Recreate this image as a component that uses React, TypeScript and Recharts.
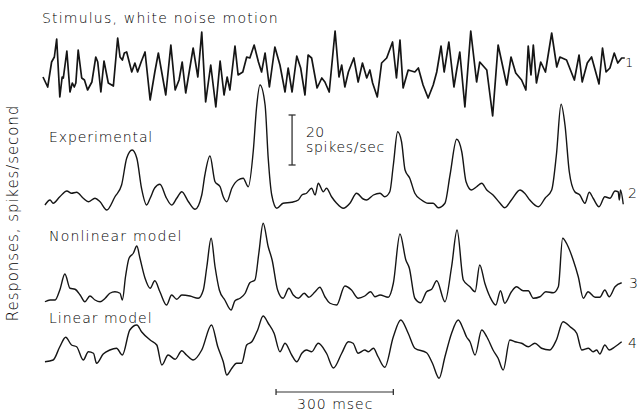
import React from 'react';
import { LineChart, Line, XAxis, YAxis, ReferenceLine } from 'recharts';

// time in ms, values: stimulus in arbitrary velocity units, responses in spikes/sec
const stimT = [0, 12, 22, 29, 35, 43, 49, 52, 61, 69, 75, 80, 84, 90, 99, 106, 114, 125, 135, 140, 148, 156, 167, 180, 191, 197, 203, 208, 214, 227, 235, 242, 251, 261, 274, 286, 295, 314, 327, 338, 348, 356, 365, 384, 396, 406, 416, 429, 442, 453, 463, 471, 478, 491, 499, 511, 521, 529, 540, 551, 559, 568, 579, 593, 606, 619, 627, 637, 649, 659, 670, 678, 687, 701, 713, 721, 732, 747, 757, 764, 772, 781, 795, 806, 817, 828, 836, 843, 855, 866, 879, 894, 904, 913, 921, 934, 951, 960, 972, 985, 998, 1007, 1018, 1026, 1038, 1051, 1058, 1066, 1079, 1094, 1109, 1117, 1135, 1150, 1164, 1186, 1197, 1209, 1224, 1235, 1241, 1248, 1254, 1262, 1273, 1285, 1301, 1314, 1322, 1339, 1359, 1371, 1379, 1392, 1403, 1422, 1431, 1440, 1450, 1461, 1470, 1480, 1488];
const stimV = [-2, -12, 13, 18, 36, -22, -2, -3, 24, -17, -8, -12, -8, 25, -3, -5, -15, -7, 18, 13, -17, 14, -8, -11, 37, 18, 15, 22, 23, 3, 12, 3, 13, 23, -25, 3, 22, -20, 30, -15, -5, 13, -18, 27, -2, 43, -27, 10, -32, 14, -20, -2, -15, 29, 0, 3, 18, 17, 30, 13, 3, 22, -12, 28, 10, -17, 7, -17, 19, 7, -20, 20, 17, -13, -3, -7, -17, 44, -2, 10, -12, 3, 17, -7, 12, -3, 5, -8, -22, 12, 17, 33, -3, 35, -13, 5, 3, 7, -10, -23, -10, 3, 29, 3, 33, -12, 5, 23, -32, 44, -7, 13, 5, -41, 30, -10, 18, 2, -5, -15, 29, 0, 30, -8, 13, 3, 42, 8, 18, 15, -5, 20, -7, 12, 18, -9, 27, 3, 7, 22, 12, 17, 17];

const expT = [5, 18, 26, 43, 61, 73, 86, 103, 116, 133, 146, 163, 184, 201, 214, 228, 240, 252, 265, 274, 286, 299, 316, 329, 342, 355, 372, 389, 406, 414, 427, 440, 453, 461, 470, 483, 499, 512, 525, 538, 546, 555, 568, 576, 585, 598, 614, 636, 653, 662, 674, 687, 696, 704, 717, 725, 738, 751, 768, 785, 802, 819, 828, 845, 862, 874, 887, 896, 907, 917, 926, 938, 951, 968, 985, 998, 1011, 1028, 1041, 1058, 1071, 1082, 1096, 1109, 1122, 1135, 1151, 1169, 1181, 1198, 1220, 1232, 1245, 1267, 1284, 1301, 1313, 1325, 1335, 1346, 1360, 1373, 1386, 1397, 1407, 1422, 1437, 1450, 1463, 1471, 1474, 1477, 1484];
const expV = [4.0, 6.0, 4.7, 7.3, 9.6, 8.7, 9.1, 6.7, 5.3, 6.7, 5.3, 2.0, 7.3, 12.0, 22.7, 26.0, 22.7, 10.7, 4.0, 6.7, 10.9, 12.3, 6.7, 4.0, 6.7, 9.3, 5.3, 2.3, 8.0, 16.0, 23.6, 13.3, 11.3, 7.3, 5.3, 10.7, 14.0, 14.7, 11.3, 26.0, 42.7, 52.0, 44.0, 22.7, 8.0, 2.7, 4.7, 5.1, 6.0, 8.0, 8.7, 10.7, 8.0, 12.7, 9.3, 10.7, 7.3, 4.7, 2.7, 4.7, 8.7, 6.4, 6.0, 8.0, 8.7, 7.3, 9.3, 20.0, 33.3, 29.3, 18.0, 14.7, 8.7, 6.0, 4.7, 4.7, 2.9, 4.7, 16.0, 30.3, 25.3, 13.3, 10.0, 11.3, 12.7, 10.0, 8.0, 4.7, 2.9, 6.0, 10.0, 8.7, 6.0, 3.3, 6.7, 10.0, 24.0, 44.3, 36.0, 17.3, 9.3, 8.0, 4.7, 9.1, 6.7, 3.3, 7.3, 6.7, 9.6, 9.3, 6.0, 10.0, 4.3];

const nonT = [5, 18, 31, 43, 56, 69, 82, 95, 107, 120, 133, 146, 159, 171, 184, 197, 203, 211, 220, 231, 240, 248, 261, 274, 286, 299, 316, 329, 342, 355, 376, 397, 410, 419, 430, 440, 451, 465, 481, 491, 504, 517, 529, 542, 552, 563, 576, 586, 600, 614, 629, 640, 653, 668, 680, 696, 708, 721, 734, 751, 772, 789, 806, 823, 838, 849, 862, 883, 896, 913, 928, 937, 951, 966, 981, 994, 1007, 1028, 1045, 1059, 1075, 1092, 1105, 1117, 1130, 1143, 1158, 1170, 1181, 1198, 1211, 1228, 1241, 1254, 1271, 1286, 1305, 1318, 1329, 1341, 1356, 1369, 1382, 1394, 1412, 1424, 1437, 1448, 1463, 1480];
const nonV = [4.1, 4.8, 4.8, 8.8, 15.2, 9.5, 9.1, 6.8, 4.1, 6.4, 4.8, 4.1, 5.5, 7.5, 8.1, 7.5, 4.8, 14.1, 21.5, 23.5, 26.4, 21.5, 13.5, 9.5, 12.5, 8.1, 2.8, 6.8, 5.1, 6.8, 6.4, 5.5, 8.8, 18.1, 29.5, 18.1, 8.8, 4.8, 0.8, 4.5, 5.5, 7.5, 11.7, 12.8, 23.5, 35.5, 26.1, 20.8, 8.8, 5.5, 9.5, 6.8, 5.5, 7.5, 5.9, 8.1, 9.9, 6.1, 3.5, 2.8, 10.4, 8.8, 5.5, 6.4, 8.1, 6.1, 6.8, 5.9, 11.5, 31.2, 20.8, 17.5, 5.5, 3.7, 8.1, 9.1, 12.5, 4.1, 18.1, 32.8, 12.8, 10.1, 8.1, 18.8, 11.5, 6.1, 2.8, 8.5, 3.5, 8.1, 10.1, 8.5, 8.5, 5.5, 6.1, 8.1, 7.7, 10.1, 29.5, 26.8, 20.8, 14.1, 5.5, 8.1, 5.9, 5.9, 8.8, 6.1, 10.1, 11.7];

const linT = [5, 26, 43, 58, 73, 86, 103, 116, 129, 137, 154, 171, 188, 203, 222, 240, 252, 274, 291, 304, 320, 338, 355, 367, 384, 406, 431, 447, 461, 470, 483, 495, 508, 521, 534, 549, 563, 576, 591, 606, 619, 636, 649, 662, 674, 687, 704, 725, 743, 764, 781, 793, 806, 823, 832, 845, 857, 874, 896, 915, 934, 951, 981, 996, 1013, 1028, 1045, 1062, 1075, 1083, 1092, 1105, 1122, 1135, 1151, 1164, 1177, 1194, 1207, 1224, 1241, 1258, 1275, 1296, 1313, 1330, 1348, 1365, 1378, 1395, 1407, 1416, 1424, 1437, 1448, 1463, 1480];
const linV = [7.3, 8.0, 13.3, 17.1, 14.0, 13.3, 8.0, 11.3, 10.7, 6.7, 10.4, 12.0, 12.7, 10.0, 20.0, 22.0, 19.3, 16.0, 14.0, 6.0, 10.0, 8.3, 11.7, 10.0, 8.0, 12.0, 22.0, 13.3, 7.3, 2.0, 4.7, 6.7, 6.7, 14.0, 15.3, 20.0, 25.6, 22.7, 18.7, 11.3, 14.7, 10.0, 7.3, 10.7, 12.0, 11.3, 14.7, 10.7, 4.8, 10.7, 15.3, 14.7, 10.7, 12.0, 11.3, 12.7, 9.3, 5.1, 17.3, 24.0, 18.7, 12.7, 10.9, 6.7, 0.7, 9.3, 18.7, 24.0, 20.3, 17.3, 15.3, 10.0, 20.0, 17.3, 12.0, 8.7, 4.0, 16.0, 15.3, 14.7, 13.3, 14.7, 12.7, 12.0, 16.0, 23.3, 21.3, 18.7, 12.0, 12.7, 11.3, 12.0, 10.4, 14.0, 12.0, 13.3, 15.3];

const traceLabels = ['Stimulus, white noise motion', 'Experimental', 'Nonlinear model', 'Linear model'];
const traceNumbers = ['1', '2', '3', '4'];
const yAxisLabel = 'Responses, spikes/second';
const rateScale = [20, 40]; // spikes/sec scale bar
const timeScale = [596, 896]; // 300 msec scale bar

const rows = (t: number[], v: number[]) => t.map((tt, i) => ({ t: tt, v: v[i] }));

const INK = '#151515';
const FONT = '"DejaVu Sans", "Liberation Sans", sans-serif';

function Trace(props: {
  data: { t: number; v: number }[];
  top: number;
  height: number;
  domain: [number, number];
  width?: number;
  curve?: 'linear' | 'monotone';
  children?: React.ReactNode;
}) {
  const { data, top, height, domain, width = 1.4, curve = 'monotone', children } = props;
  return (
    <div style={{ position: 'absolute', left: 0, top, width: 639, height }}>
      <LineChart width={639} height={height} data={data} margin={{ top: 0, right: 9.5, bottom: 0, left: 43 }}>
        <XAxis type="number" dataKey="t" domain={[0, 1500]} hide />
        <YAxis type="number" domain={domain} hide allowDataOverflow />
        <Line type={curve} dataKey="v" stroke={INK} strokeWidth={width} dot={false} isAnimationActive={false} strokeLinejoin="round" />
        {children}
      </LineChart>
    </div>
  );
}

function Txt(props: { x: number; cy: number; size?: number; spacing?: number; children: React.ReactNode }) {
  const { x, cy, size = 14, spacing = 0.4, children } = props;
  return (
    <div
      style={{
        position: 'absolute',
        left: x,
        top: cy - size / 2,
        fontSize: size,
        lineHeight: `${size}px`,
        letterSpacing: spacing,
        fontFamily: FONT,
        fontWeight: 200,
        color: '#000',
        whiteSpace: 'nowrap',
      }}
    >
      {children}
    </div>
  );
}

export default function App() {
  const capW = 9;
  return (
    <div style={{ position: 'absolute', left: 0, top: 0, width: 639, height: 411, background: '#fff', overflow: 'hidden' }}>
      <Trace data={rows(stimT, stimV)} top={30} height={90} domain={[-45, 45]} width={1.7} curve="linear" />
      <Trace data={rows(expT, expV)} top={75} height={140} domain={[0, 56]}>
        <ReferenceLine segment={[{ x: 637, y: rateScale[0] }, { x: 637, y: rateScale[1] }]} stroke="#333" strokeWidth={1.3} />
        <ReferenceLine segment={[{ x: 637 - capW, y: rateScale[0] }, { x: 637 + capW, y: rateScale[0] }]} stroke="#333" strokeWidth={1.3} />
        <ReferenceLine segment={[{ x: 637 - capW, y: rateScale[1] }, { x: 637 + capW, y: rateScale[1] }]} stroke="#333" strokeWidth={1.3} />
      </Trace>
      <Trace data={rows(nonT, nonV)} top={212} height={100} domain={[0, 40]} />
      <Trace data={rows(linT, linV)} top={280} height={120} domain={[-8, 40]}>
        <ReferenceLine segment={[{ x: timeScale[0], y: -4.8 }, { x: timeScale[1], y: -4.8 }]} stroke="#333" strokeWidth={1.2} />
        <ReferenceLine segment={[{ x: timeScale[0], y: -6 }, { x: timeScale[0], y: -3.6 }]} stroke="#333" strokeWidth={1.3} />
        <ReferenceLine segment={[{ x: timeScale[1], y: -6 }, { x: timeScale[1], y: -3.6 }]} stroke="#333" strokeWidth={1.3} />
      </Trace>

      <Txt x={42} cy={18} spacing={1.2}>{traceLabels[0]}</Txt>
      <Txt x={49} cy={137} spacing={0.9}>{traceLabels[1]}</Txt>
      <Txt x={49} cy={236} spacing={1.2}>{traceLabels[2]}</Txt>
      <Txt x={49} cy={318} spacing={1.0}>{traceLabels[3]}</Txt>

      <Txt x={625} cy={62} size={13}>{traceNumbers[0]}</Txt>
      <Txt x={628} cy={193} size={14}>{traceNumbers[1]}</Txt>
      <Txt x={629} cy={283} size={14}>{traceNumbers[2]}</Txt>
      <Txt x={628} cy={343} size={14}>{traceNumbers[3]}</Txt>

      <Txt x={306} cy={132}>20</Txt>
      <Txt x={306} cy={147} spacing={0.7}>spikes/sec</Txt>
      <Txt x={297} cy={404} spacing={1}>300 msec</Txt>

      <div
        style={{
          position: 'absolute',
          left: 13,
          top: 213,
          transform: 'translate(-50%, -50%) rotate(-90deg)',
          fontSize: 15,
          lineHeight: '15px',
          letterSpacing: 0.9,
          fontFamily: FONT,
          fontWeight: 200,
          color: '#000',
          whiteSpace: 'nowrap',
        }}
      >
        {yAxisLabel}
      </div>
    </div>
  );
}
